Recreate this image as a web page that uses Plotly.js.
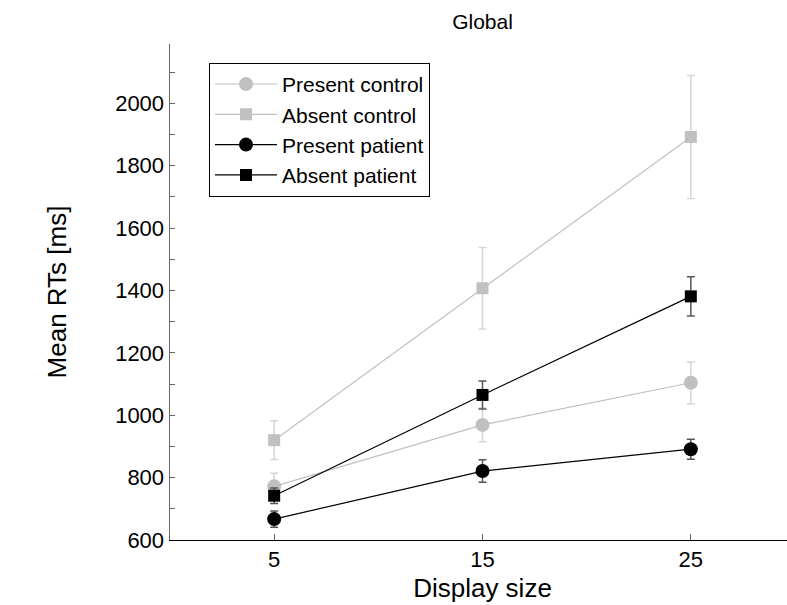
<!DOCTYPE html>
<html>
<head>
<meta charset="utf-8">
<script src="https://cdn.plot.ly/plotly-3.0.1.min.js"></script>
<style>
html, body { margin: 0; padding: 0; overflow: hidden; background: #fff; }
#chart { width: 810px; height: 605px; }
</style>
</head>
<body>
<div id="chart"></div>
<script>
// Data
const displaySize = [5, 15, 25];
const presentControl = [772, 969, 1104];
const presentControlErr = [42, 54, 67];
const absentControl = [920, 1407, 1892];
const absentControlErr = [62, 131, 197];
const presentPatient = [667, 821, 891];
const presentPatientErr = [26, 36, 32];
const absentPatient = [742, 1065, 1381];
const absentPatientErr = [25, 45, 63];
const seriesNames = ["Present control", "Absent control", "Present patient", "Absent patient"];
const xTicks = [5, 15, 25];
const yTicks = [600, 800, 1000, 1200, 1400, 1600, 1800, 2000];

const FONT = "Liberation Sans, Arial, Helvetica, sans-serif";
const gray = "#c0c0c0";
const grayErr = "#d6d6d6";
const dark = "#000000";
const darkErr = "#555555";

function trace(name, y, err, color, errColor, symbol, size) {
  return {
    type: "scatter", mode: "lines+markers", name: name,
    x: displaySize, y: y,
    line: { color: color, width: 1.2 },
    marker: { color: color, symbol: symbol, size: size, line: { width: 0 } },
    error_y: { type: "data", array: err, visible: true, color: errColor, thickness: 1.5, width: 4 }
  };
}

const data = [
  trace(seriesNames[0], presentControl, presentControlErr, gray, grayErr, "circle", 14),
  trace(seriesNames[1], absentControl, absentControlErr, gray, grayErr, "square", 12),
  trace(seriesNames[2], presentPatient, presentPatientErr, dark, darkErr, "circle", 14),
  trace(seriesNames[3], absentPatient, absentPatientErr, dark, darkErr, "square", 12)
];

const layout = {
  width: 810, height: 605,
  margin: { l: 170, r: 15, t: 44, b: 65 },
  paper_bgcolor: "#fff", plot_bgcolor: "#fff",
  font: { family: FONT, color: "#000", size: 22 },
  showlegend: true,
  title: { text: "Global", font: { family: FONT, size: 21, color: "#000" },
           x: 0.5, xref: "paper", xanchor: "center", y: 1 - 22 / 605, yanchor: "middle" },
  xaxis: {
    range: [0, 30], tickvals: xTicks, ticktext: xTicks.map(String),
    ticks: "inside", ticklen: 6, tickcolor: "#666", tickwidth: 1,
    showgrid: false, zeroline: false, showline: true, linecolor: "#000", linewidth: 1,
    tickfont: { family: FONT, size: 22 },
    title: { text: "Display size", font: { family: FONT, size: 26 }, standoff: 7 },
    automargin: false, fixedrange: true
  },
  yaxis: {
    range: [600, 2190], tickvals: yTicks, ticktext: yTicks.map(String),
    ticks: "inside", ticklen: 5, tickcolor: "#666", tickwidth: 1,
    minor: { dtick: 100, tick0: 600, ticks: "inside", ticklen: 5, tickcolor: "#666", showgrid: false },
    showgrid: false, zeroline: false, showline: true, linecolor: "#666", linewidth: 1.5,
    tickfont: { family: FONT, size: 22 },
    title: { text: "Mean RTs [ms]", font: { family: FONT, size: 26 }, standoff: 41 },
    automargin: false, fixedrange: true
  },
  legend: {
    x: 0.0624, y: 0.962, xanchor: "left", yanchor: "top",
    bgcolor: "#fff", bordercolor: "#000", borderwidth: 1,
    font: { family: FONT, size: 21, color: "#000" },
    tracegroupgap: 0, itemwidth: 62
  }
};

Plotly.newPlot("chart", data, layout, { displayModeBar: false, staticPlot: true });
</script>
</body>
</html>
